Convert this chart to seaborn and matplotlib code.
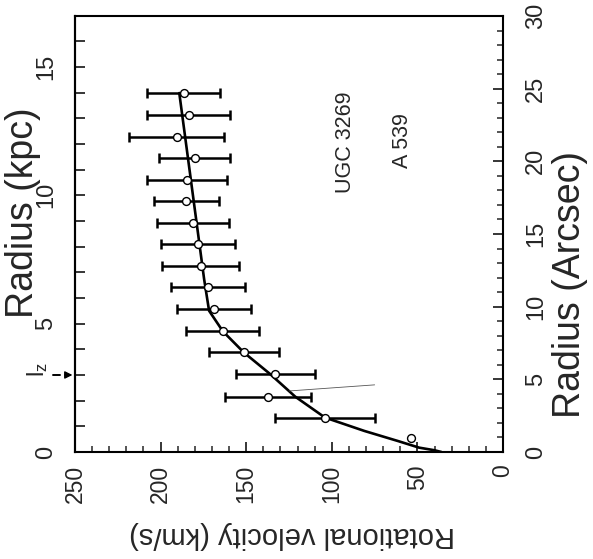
import numpy as np
import seaborn as sns
import matplotlib
matplotlib.use("Agg")
import matplotlib.pyplot as plt
from matplotlib.ticker import MultipleLocator

# observed points: radius (arcsec), rotational velocity (km/s), error (km/s)
radius_arcsec = [0.94, 2.37, 3.81, 5.36, 6.85, 8.30, 9.81, 11.33, 12.78,
                 14.28, 15.77, 17.26, 18.70, 20.20, 21.70, 23.20, 24.70]
velocity = [54, 104, 137.3, 133, 151.4, 163.6, 168.6, 172.3, 176.5,
            178.1, 181, 184.9, 184.5, 180.2, 190.7, 183.7, 186.6]
vel_err = [np.nan, 29, 25, 23, 20.3, 21.3, 21.6, 21.5, 22.5,
           21.5, 21.2, 19.2, 23.2, 21, 28, 24.3, 21.2]

# model curve
model_r = [0.0, 0.12, 0.3, 0.76, 1.45, 2.37, 3.81, 5.36, 6.85, 8.3, 9.72, 11.9, 24.7]
model_v = [36, 40, 49, 61.5, 81, 104, 121.4, 136, 151.4, 163.6, 171.7, 174.6, 189.1]

# thin line near the inner points
thin_r = [4.2, 4.62]
thin_v = [125, 75]

KPC_PER_ARCSEC = 0.566
lz_kpc = 3.0

sns.set_style("ticks")
plt.rcParams.update({
    "font.family": ["Liberation Sans", "DejaVu Sans"],
    "mathtext.default": "regular",
    "axes.linewidth": 1.5,
    "axes.edgecolor": "black",
})

fig = plt.figure(figsize=(5.93, 5.59), dpi=100)
ax = fig.add_axes([0.1265, 0.1914, 0.7218, 0.7800])

# model curve and thin line
sns.lineplot(x=model_v, y=model_r, sort=False, estimator=None,
             color="black", linewidth=1.9, ax=ax)
sns.lineplot(x=thin_v, y=thin_r, sort=False, estimator=None,
             color="#555555", linewidth=0.6, ax=ax)

# error bars (horizontal in this orientation)
r = np.array(radius_arcsec)
v = np.array(velocity)
e = np.array(vel_err)
m = ~np.isnan(e)
ax.errorbar(v[m], r[m], xerr=e[m], fmt="none", ecolor="black",
            elinewidth=1.8, capsize=3.5, capthick=1.8, zorder=3)

# open circles
sns.scatterplot(x=velocity, y=radius_arcsec, marker="o", s=32,
                facecolor="white", edgecolor="black", linewidth=1.0,
                zorder=4, ax=ax)

ax.set_xlim(250, 0)
ax.set_ylim(0, 30)

# velocity axis (bottom)
ax.xaxis.set_major_locator(MultipleLocator(50))
ax.xaxis.set_minor_locator(MultipleLocator(10))
ax.tick_params(axis="x", which="both", direction="in", top=False, bottom=True,
               labelsize=16.5, labelrotation=90, pad=9)
ax.tick_params(axis="x", which="major", length=7, width=1.3)
ax.tick_params(axis="x", which="minor", length=4, width=1.1)

# arcsec axis (right)
ax.yaxis.tick_right()
ax.yaxis.set_major_locator(MultipleLocator(5))
ax.yaxis.set_minor_locator(MultipleLocator(1))
ax.tick_params(axis="y", which="both", direction="in", left=False, right=True,
               labelsize=17, labelrotation=90, pad=16)
ax.tick_params(axis="y", which="major", length=7, width=1.3)
ax.tick_params(axis="y", which="minor", length=4, width=1.1)
for lab in ax.get_yticklabels():
    lab.set_va("center")

# kpc axis (left)
sec = ax.secondary_yaxis("left", functions=(lambda a: a * KPC_PER_ARCSEC,
                                            lambda k: k / KPC_PER_ARCSEC))
sec.yaxis.set_major_locator(MultipleLocator(5))
sec.yaxis.set_minor_locator(MultipleLocator(1))
sec.tick_params(axis="y", which="both", direction="in", length=7, width=1.3,
                labelsize=17, labelrotation=90, pad=13)
sec.spines["left"].set_linewidth(1.5)
for lab in sec.get_yticklabels():
    lab.set_va("center")

ax.set_xlabel("")
ax.set_ylabel("")

# axis titles
ax.text(-0.122, 0.55, "Radius (kpc)", transform=ax.transAxes, rotation=90,
        ha="center", va="center", fontsize=27)
ax.text(1.157, 0.385, "Radius (Arcsec)", transform=ax.transAxes, rotation=90,
        ha="center", va="center", fontsize=27)
ax.text(0.508, -0.19, "Rotational velocity (km/s)", transform=ax.transAxes,
        rotation=180, ha="center", va="center", fontsize=21)

# galaxy labels
ax.text(92, 21.3, "UGC 3269", rotation=90, ha="center", va="center", fontsize=15.5)
ax.text(58.6, 21.4, "A 539", rotation=90, ha="center", va="center", fontsize=15.5)

# l_z marker on the kpc axis: short dash, then arrowhead
lz_arcsec = lz_kpc / KPC_PER_ARCSEC
ytf = ax.get_yaxis_transform()
ax.plot([-0.052, -0.036], [lz_arcsec, lz_arcsec], color="black", lw=1.4,
        transform=ytf, clip_on=False)
ax.annotate("", xy=(-0.006, lz_arcsec), xytext=(-0.024, lz_arcsec),
            xycoords=ytf, textcoords=ytf,
            arrowprops=dict(arrowstyle="-|>", color="black", lw=1.0,
                            mutation_scale=11, shrinkA=0, shrinkB=0),
            annotation_clip=False)
ax.text(-0.088, lz_arcsec + 0.4, "l$_z$", transform=ytf,
        rotation=90, ha="center", va="center", fontsize=17)

fig.savefig("out.png", dpi=100)
